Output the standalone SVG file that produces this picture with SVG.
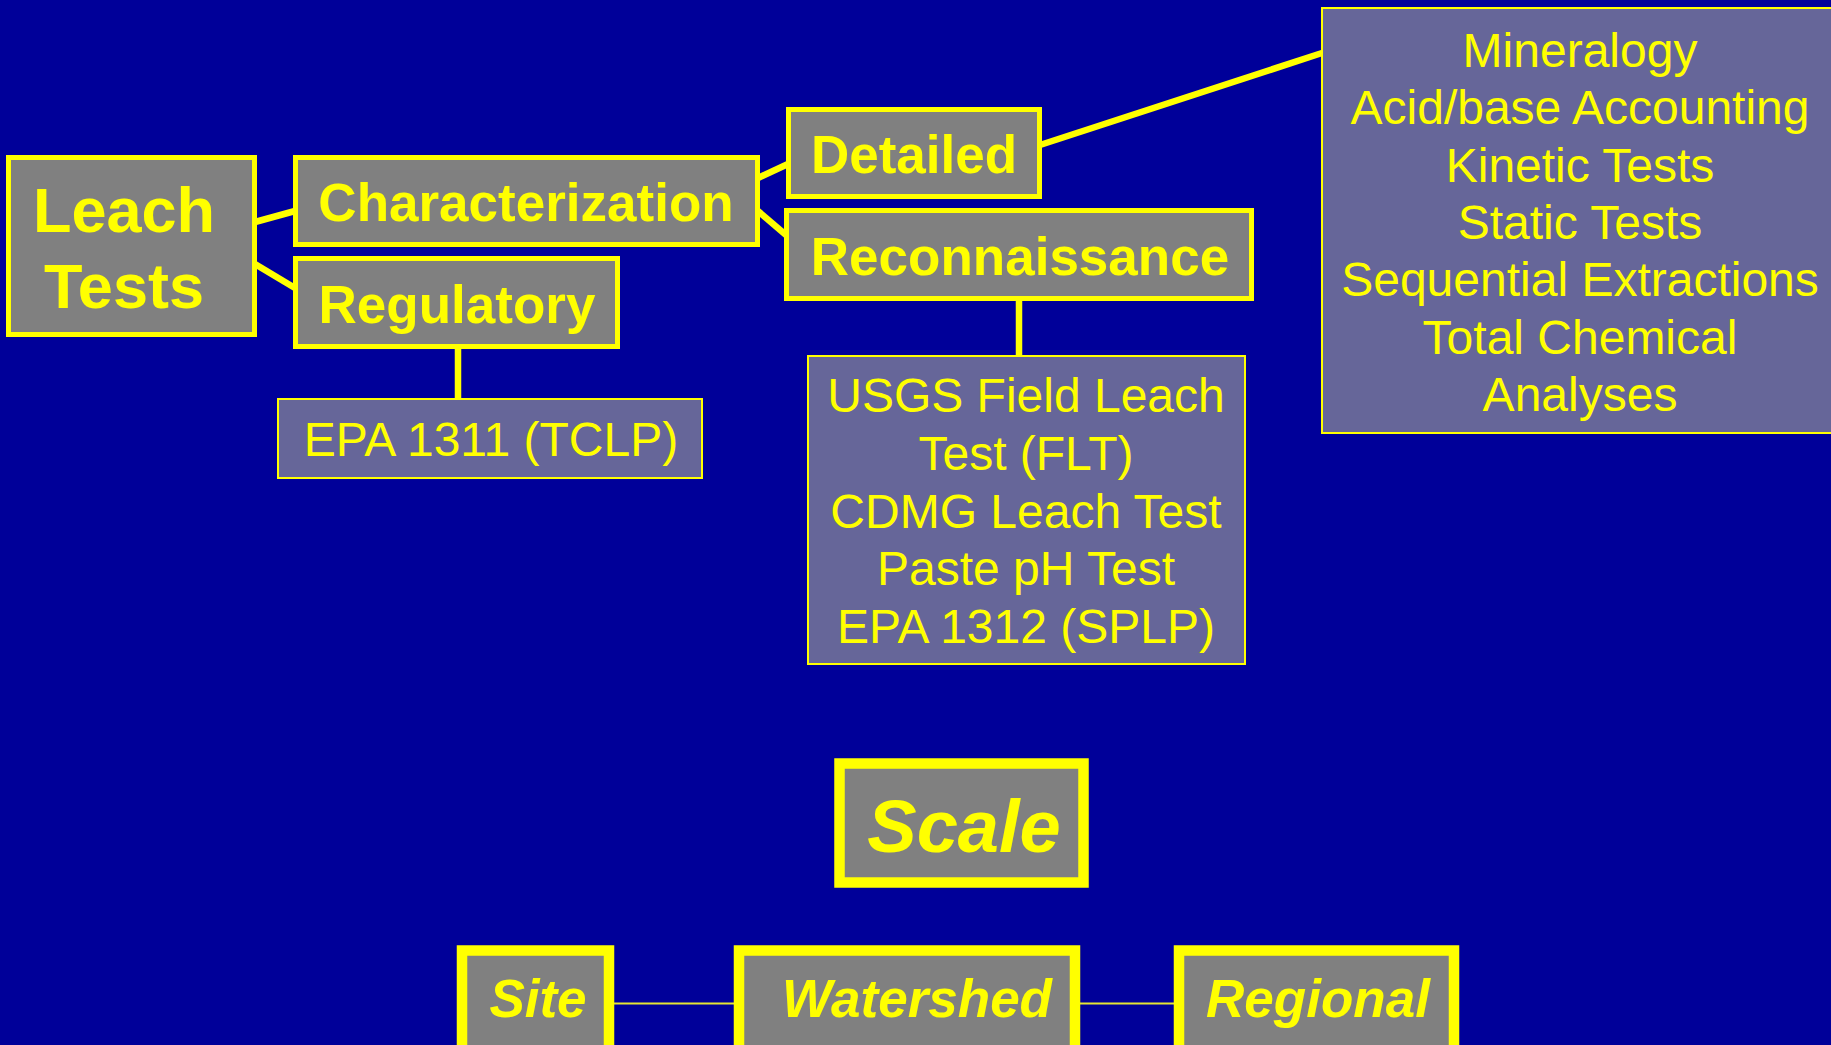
<svg xmlns="http://www.w3.org/2000/svg" width="1831" height="1045" viewBox="0 0 1831 1045">
<style>
.bg{fill:#000099}
.bold{fill:#808080;stroke:#FFFF00;stroke-width:5}
.thin{fill:#666699;stroke:#FFFF00;stroke-width:2}
.heavy{fill:#808080;stroke:#FFFF00;stroke-width:10.5}
.conn{stroke:#FFFF00;stroke-width:6.5;fill:none}
.conn-thin{stroke:#E6E633;stroke-width:2;fill:none}
.tb{font-family:"Liberation Sans",Arial,sans-serif;font-weight:bold;fill:#FFFF00;text-anchor:middle}
.tr{font-family:"Liberation Sans",Arial,sans-serif;font-size:48px;fill:#FFFF00;text-anchor:middle}
.ti{font-family:"Liberation Sans",Arial,sans-serif;font-weight:bold;font-style:italic;fill:#FFFF00;text-anchor:middle}
</style>
<rect class="bg" x="0" y="0" width="1831" height="1045"/>
<g id="connectors">
<line class="conn" x1="255" y1="222" x2="295" y2="211"/>
<line class="conn" x1="255" y1="264" x2="295" y2="288"/>
<line class="conn" x1="758" y1="178" x2="788" y2="164"/>
<line class="conn" x1="758" y1="211" x2="786" y2="235"/>
<line class="conn" x1="1040" y1="145" x2="1322" y2="53"/>
<line class="conn" x1="458" y1="347" x2="458" y2="399"/>
<line class="conn" x1="1019" y1="299" x2="1019" y2="356"/>
<line class="conn-thin" x1="614" y1="1003.5" x2="734" y2="1003.5"/>
<line class="conn-thin" x1="1080" y1="1003.5" x2="1174" y2="1003.5"/>
</g>
<g id="leach-tests">
<rect class="bold" x="8.5" y="157.5" width="246" height="177"/>
<text class="tb" font-size="63" x="124" y="232">Leach</text>
<text class="tb" font-size="63" x="124" y="308">Tests</text>
</g>
<g id="characterization">
<rect class="bold" x="295.5" y="157.5" width="462" height="87"/>
<text class="tb" font-size="53" x="526" y="221">Characterization</text>
</g>
<g id="regulatory">
<rect class="bold" x="295.5" y="258.5" width="322" height="88"/>
<text class="tb" font-size="53" x="457" y="323">Regulatory</text>
</g>
<g id="epa1311">
<rect class="thin" x="278" y="399" width="424" height="79"/>
<text class="tr" x="491" y="456">EPA 1311 (TCLP)</text>
</g>
<g id="detailed">
<rect class="bold" x="788.5" y="109.5" width="251" height="87"/>
<text class="tb" font-size="53" x="914" y="173">Detailed</text>
</g>
<g id="reconnaissance">
<rect class="bold" x="786.5" y="210.5" width="465" height="88"/>
<text class="tb" font-size="53" x="1020" y="275">Reconnaissance</text>
</g>
<g id="recon-tests">
<rect class="thin" x="808" y="356" width="437" height="308"/>
<text class="tr" x="1026" y="412">USGS Field Leach</text>
<text class="tr" x="1026" y="470">Test (FLT)</text>
<text class="tr" x="1026" y="528">CDMG Leach Test</text>
<text class="tr" x="1026" y="585">Paste pH Test</text>
<text class="tr" x="1026" y="643">EPA 1312 (SPLP)</text>
</g>
<g id="detailed-tests">
<rect class="thin" x="1322" y="8" width="520" height="425"/>
<text class="tr" x="1580" y="67">Mineralogy</text>
<text class="tr" x="1580" y="124">Acid/base Accounting</text>
<text class="tr" x="1580" y="181.5">Kinetic Tests</text>
<text class="tr" x="1580" y="239">Static Tests</text>
<text class="tr" x="1580" y="296">Sequential Extractions</text>
<text class="tr" x="1580" y="353.5">Total Chemical</text>
<text class="tr" x="1580" y="411">Analyses</text>
</g>
<g id="scale">
<rect class="heavy" x="839.5" y="763.5" width="244" height="119"/>
<text class="ti" font-size="74" x="964" y="852">Scale</text>
</g>
<g id="site">
<rect class="heavy" x="462" y="950.5" width="147" height="100"/>
<text class="ti" font-size="53" x="538" y="1017">Site</text>
</g>
<g id="watershed">
<rect class="heavy" x="739" y="950.5" width="336" height="100"/>
<text class="ti" font-size="53" x="917" y="1017">Watershed</text>
</g>
<g id="regional">
<rect class="heavy" x="1179" y="950.5" width="275" height="100"/>
<text class="ti" font-size="53" x="1318" y="1017">Regional</text>
</g>
</svg>
